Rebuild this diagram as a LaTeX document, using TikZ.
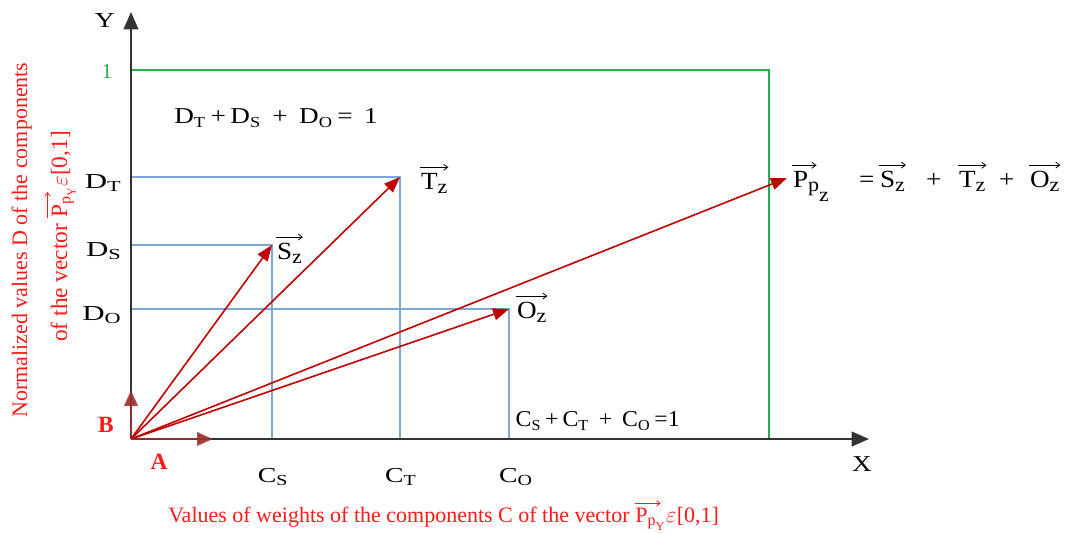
\documentclass[tikz,border=0pt]{standalone}
\usepackage{fontspec}
\setmainfont{Liberation Serif}
\usetikzlibrary{arrows.meta,calc}
\definecolor{vred}{HTML}{C00000}
\definecolor{dred}{HTML}{A03030}
\definecolor{lblue}{HTML}{7FA7D6}
\definecolor{lgreen}{HTML}{22B14C}
\definecolor{axisc}{HTML}{333333}
\definecolor{lred}{HTML}{FF1A1A}
\newcommand{\vsub}[2]{#1\textsubscript{\fontsize{11.5}{11.5}\selectfont #2}}
\newcommand{\zs}[1]{\raisebox{-3.5pt}{\fontsize{15}{15}\selectfont #1}}
\newcommand{\rsubP}{P\raisebox{-2.5pt}{\fontsize{12}{12}\selectfont p\raisebox{-4pt}{\fontsize{9}{9}\selectfont Y}}}
\begin{document}
\begin{tikzpicture}[x=0.75pt,y=-0.75pt,
  axis/.style={draw=axisc,line width=1.5pt,-{Triangle[length=13pt,width=11pt]}},
  vec/.style={draw=vred,line width=1.2pt,-{Triangle[length=12pt,width=9pt]}},
  basis/.style={draw=dred,line width=2.2pt,-{Triangle[length=12pt,width=10pt]}},
  guide/.style={draw=lblue,line width=1.1pt},
  bound/.style={draw=lgreen,line width=1.2pt},
  lbl/.style={font=\fontsize{16}{18}\selectfont,inner sep=1pt},
  vl/.style={font=\fontsize{18.5}{20}\selectfont,xscale=1.1,inner xsep=0.5pt,inner ysep=4pt,anchor=base west},
  oarr/.style={draw=black,line width=0.6pt,-{Straight Barb[length=3pt,width=4.5pt]}},
  roarr/.style={draw=lred,line width=0.6pt,-{Straight Barb[length=2.5pt,width=4pt]},shorten >=3pt},
  rlbl/.style={font=\fontsize{16.5}{18}\selectfont,text=lred,inner xsep=0pt,inner ysep=1pt},
  ablbl/.style={font=\fontsize{17.5}{18}\selectfont\bfseries,text=lred,inner sep=1pt}]
\useasboundingbox (0,0) rectangle (1069,533);
% points
\coordinate (O) at (131,439);
\coordinate (Ytip) at (131,12);
\coordinate (Xtip) at (869,439);
\coordinate (G1) at (131,70);
\coordinate (G2) at (769,70);
\coordinate (G3) at (769,439);
\coordinate (DT) at (131,177);
\coordinate (TT) at (400,177);
\coordinate (CT) at (400,439);
\coordinate (DS) at (131,245);
\coordinate (SS) at (272,245);
\coordinate (CS) at (272,439);
\coordinate (DO) at (131,309);
\coordinate (OO) at (509,309);
\coordinate (CO) at (509,439);
\coordinate (PP) at (787,178);
\coordinate (Atip) at (213,439);
\coordinate (Btip) at (131,390);
% guides
\draw[bound] (G1) -- (G2) -- (G3);
\draw[guide] (DT) -- (TT) -- (CT);
\draw[guide] (DS) -- (SS) -- (CS);
\draw[guide] (DO) -- (OO) -- (CO);
% axes
\draw[axis] (O) -- (Ytip);
\draw[axis] (O) -- (Xtip);
% vectors
\draw[vec] (O) -- (SS);
\draw[vec] (O) -- (TT);
\draw[vec] (O) -- (OO);
\draw[vec] (O) -- (PP);
\draw[basis,opacity=0.85] (O) -- (Atip);
\draw[basis,opacity=0.85] (O) -- (Btip);
% axis labels
\node[lbl,xscale=1.3] (ylab) at (105,21) {Y};
\node[lbl,font=\fontsize{17}{18}\selectfont,xscale=1.2] (xlab) at (862,464) {X};
\node[lbl,text=lgreen] (one) at (107,71) {1};
\node[lbl,font=\fontsize{17}{18}\selectfont,xscale=1.2] (sumD) at (276,118) {\vsub{D}{T}\,+\,\vsub{D}{S}\, + \,\vsub{D}{O}\,=\, 1};
\node[lbl,anchor=east,xscale=1.45] (lDT) at (124,183) {\vsub{D}{T}};
\node[lbl,anchor=east,xscale=1.45] (lDS) at (124,251) {\vsub{D}{S}};
\node[lbl,anchor=east,xscale=1.45] (lDO) at (124,315) {\vsub{D}{O}};
\node[lbl,xscale=1.3] (lCS) at (273,477) {\vsub{C}{S}};
\node[lbl,xscale=1.3] (lCT) at (401,477) {\vsub{C}{T}};
\node[lbl,xscale=1.3] (lCO) at (516,477) {\vsub{C}{O}};
\node[lbl,anchor=west,font=\fontsize{17}{18}\selectfont,xscale=1.05] (sumC) at (514,421) {\vsub{C}{S}\,+\,\vsub{C}{T}\, + \,\vsub{C}{O}\,=1};
% vector labels
\node[vl] (lT) at (420,189) {T\zs{z}};
\node[vl] (lS) at (276,259) {S\zs{z}};
\node[vl] (lO) at (516,318) {O\zs{z}};
\draw[oarr] (lT.north west) -- (lT.north east);
\draw[oarr] (lS.north west) -- (lS.north east);
\draw[oarr] (lO.north west) -- (lO.north east);
% sum equation
\node[vl] (eP) at (792,187) {P\raisebox{-3pt}{\fontsize{15}{15}\selectfont p\raisebox{-7.5pt}{z}}};
\node[vl] (eq) at (858,187) {=};
\node[vl] (eS) at (879,187) {S\zs{z}};
\node[vl] (pl1) at (925,187) {+};
\node[vl] (eT) at (958,187) {T\zs{z}};
\node[vl] (pl2) at (998,187) {+};
\node[vl] (eO) at (1029,187) {O\zs{z}};
\draw[oarr,shorten >=10pt] (eP.north west) -- (eP.north east);
\draw[oarr] (eS.north west) -- (eS.north east);
\draw[oarr] (eT.north west) -- (eT.north east);
\draw[oarr] (eO.north west) -- (eO.north east);
% A and B
\node[ablbl] (lB) at (106,425) {B};
\node[ablbl] (lA) at (159,462) {A};
% red axis titles
\node[rlbl,rotate=90,anchor=base] (ax1) at (27,240) {Normalized values D of the components};
\node[rlbl,rotate=90,anchor=base west,font=\fontsize{17.5}{18}\selectfont] (ax2a) at (67,342) {of the vector};
\node[rlbl,rotate=90,anchor=base west,inner ysep=3pt,font=\fontsize{17.5}{18}\selectfont] (ax2b) at ($(ax2a.base east)!-4pt!(ax2a.base west)$) {\rsubP};
\node[rlbl,rotate=90,anchor=base west,font=\fontsize{17.5}{18}\selectfont] (ax2c) at ($(ax2b.base east)!-1pt!(ax2b.base west)$) {$\varepsilon$[0,1]};
\draw[roarr] (ax2b.north west) -- (ax2b.north east);
\node[rlbl,anchor=base west] (ax3a) at (168,522) {Values of weights of the components C of the vector};
\node[rlbl,anchor=base west,inner ysep=3pt] (ax3b) at ($(ax3a.base east)!-4pt!(ax3a.base west)$) {\rsubP};
\node[rlbl,anchor=base west] (ax3c) at ($(ax3b.base east)!-1pt!(ax3b.base west)$) {$\varepsilon$[0,1]};
\draw[roarr] (ax3b.north west) -- (ax3b.north east);
\end{tikzpicture}
\end{document}
